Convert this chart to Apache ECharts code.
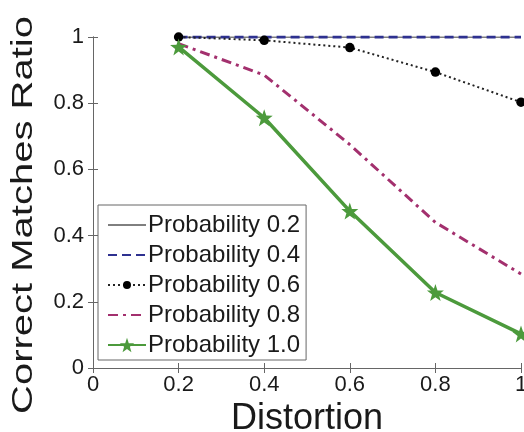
<!DOCTYPE html>
<html>
<head>
<meta charset="utf-8">
<script src="https://cdn.jsdelivr.net/npm/echarts@6/dist/echarts.min.js"></script>
<style>
html,body{margin:0;padding:0;background:#fff;}
#chart{width:524px;height:432px;}
</style>
</head>
<body>
<div id="chart"></div>
<script>
var distortion = [0.2, 0.4, 0.6, 0.8, 1.0];
var prob02 = [1.0, 1.0, 1.0, 1.0, 1.0];
var prob04 = [1.0, 1.0, 1.0, 1.0, 1.0];
var prob06 = [1.0, 0.99, 0.968, 0.894, 0.803];
var prob08 = [0.98, 0.885, 0.675, 0.44, 0.284];
var prob10 = [0.97, 0.756, 0.474, 0.228, 0.103];
var seriesNames = ['Probability 0.2', 'Probability 0.4', 'Probability 0.6', 'Probability 0.8', 'Probability 1.0'];
var xTitle = 'Distortion';
var yTitle = 'Correct Matches Ratio';

function pairs(vals) {
  return distortion.map(function (x, i) { return [x, vals[i]]; });
}
function fmt(v) {
  if (v === 0) return '0';
  if (Math.abs(v - 1) < 1e-9) return '1';
  return v.toFixed(1);
}
var font = 'Liberation Sans, Arial, sans-serif';
var axisCol = '#666';
var axisCommon = {
  type: 'value', min: 0, max: 1, interval: 0.2,
  axisLine: { show: true, lineStyle: { color: axisCol, width: 1 } },
  axisTick: { show: true, inside: true, length: 5, lineStyle: { color: axisCol } },
  splitLine: { show: false }
};
var hidden = { color: 'rgba(0,0,0,0)', borderColor: 'rgba(0,0,0,0)', borderWidth: 0, opacity: 0 };
var dotPath = 'path://M-9,-9 M9,9 M5,0 A5,5 0 1,1 -5,0 A5,5 0 1,1 5,0 Z';
var starPath = 'path://M0,-10 L2.35,-3.24 L9.51,-3.09 L3.8,1.24 L5.88,8.09 L0,4 L-5.88,8.09 L-3.8,1.24 L-9.51,-3.09 L-2.35,-3.24 Z';

var chart = echarts.init(document.getElementById('chart'));
chart.setOption({
  backgroundColor: '#fff',
  animation: false,
  grid: { left: 93, right: 3, top: 37, bottom: 64, outerBoundsMode: 'none', containLabel: false },
  xAxis: [
    Object.assign({}, axisCommon, {
      position: 'bottom',
      name: xTitle, nameLocation: 'middle', nameGap: 27,
      nameTextStyle: { fontSize: 36, color: '#1a1a1a', fontFamily: font },
      axisLabel: { formatter: fmt, fontSize: 22, color: '#1a1a1a', fontFamily: font, margin: 6 }
    }),
    Object.assign({}, axisCommon, { position: 'top', axisLabel: { show: false } })
  ],
  yAxis: [
    Object.assign({}, axisCommon, {
      position: 'left',
      axisLabel: { formatter: fmt, fontSize: 22, color: '#1a1a1a', fontFamily: font, margin: 9 }
    }),
    Object.assign({}, axisCommon, { position: 'right', axisLabel: { show: false } })
  ],
  graphic: [{
    type: 'text',
    x: 24, y: 215,
    rotation: Math.PI / 2,
    scaleX: 1.0, scaleY: 0.74,
    style: {
      text: yTitle,
      font: '40px Liberation Sans, Arial, sans-serif',
      fill: '#1a1a1a',
      align: 'center', verticalAlign: 'middle'
    }
  }],
  legend: {
    orient: 'vertical', left: 98, top: 205,
    data: [
      { name: seriesNames[0], itemStyle: hidden, lineStyle: { width: 1 } },
      { name: seriesNames[1], itemStyle: hidden },
      { name: seriesNames[2] },
      { name: seriesNames[3], itemStyle: hidden },
      { name: seriesNames[4] }
    ],
    backgroundColor: '#fff',
    borderColor: axisCol, borderWidth: 1, borderRadius: 0,
    padding: [8, 6, 3, 9],
    itemWidth: 38, itemHeight: 18, itemGap: 6,
    textStyle: { fontSize: 24, color: '#1a1a1a', fontFamily: font, padding: [0, 0, 0, -3] }
  },
  series: [
    { name: seriesNames[0], type: 'line', data: pairs(prob02), symbol: 'none',
      lineStyle: { color: '#000', width: 1.2, type: 'solid' }, itemStyle: { color: '#000' } },
    { name: seriesNames[1], type: 'line', data: pairs(prob04), symbol: 'none',
      lineStyle: { color: '#2e3190', width: 3, type: [9, 5] }, itemStyle: { color: '#2e3190' } },
    { name: seriesNames[2], type: 'line', data: pairs(prob06), symbol: dotPath, symbolSize: 17,
      lineStyle: { color: '#222', width: 2, type: [2, 3] }, itemStyle: { color: '#000' } },
    { name: seriesNames[3], type: 'line', data: pairs(prob08), symbol: 'none',
      lineStyle: { color: '#a3306e', width: 3, type: [10, 5, 3, 5] }, itemStyle: { color: '#a3306e' } },
    { name: seriesNames[4], type: 'line', data: pairs(prob10), symbol: starPath, symbolSize: 17,
      lineStyle: { color: '#4c9a3c', width: 3.5 }, itemStyle: { color: '#4c9a3c' } }
  ]
});
</script>
</body>
</html>
